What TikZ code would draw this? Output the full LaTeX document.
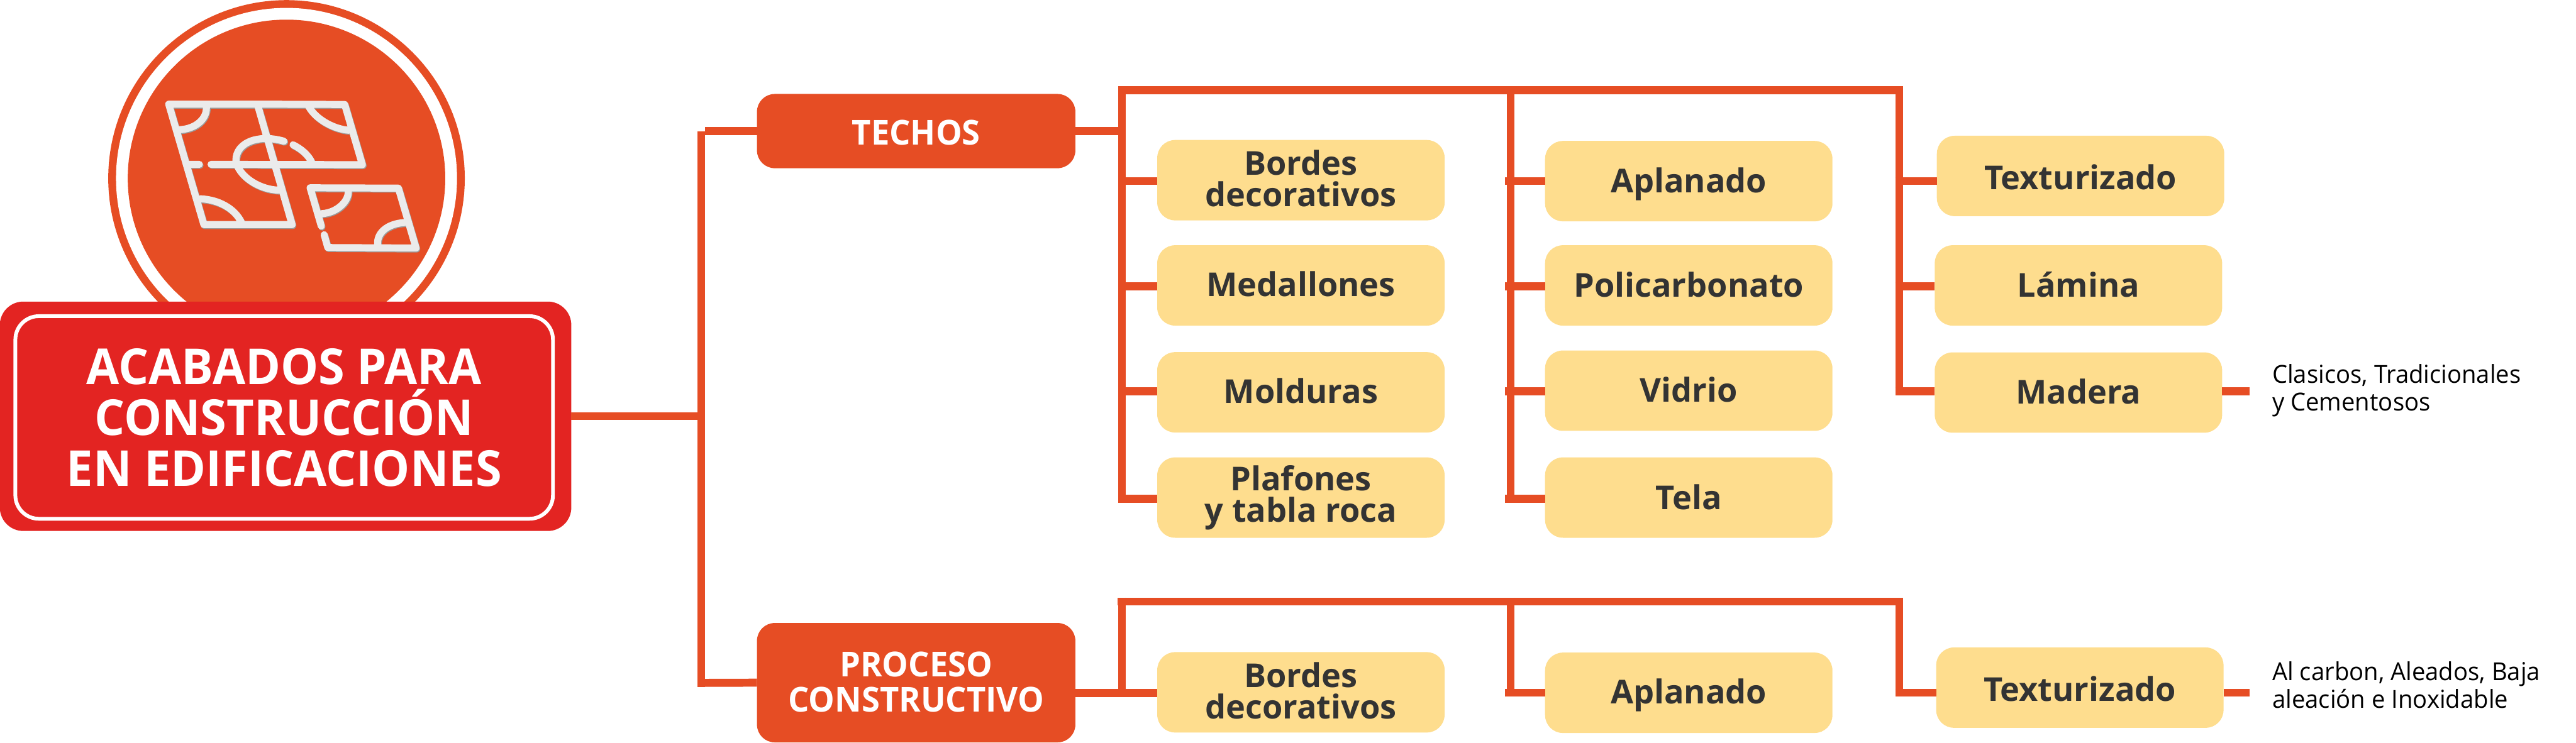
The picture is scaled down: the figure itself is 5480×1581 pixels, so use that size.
\documentclass[tikz,border=0pt]{standalone}
\usepackage{fontspec}
\setmainfont{Open Sans}
\newfontfamily\sidefont[FakeStretch=0.97]{Open Sans}
\newfontfamily\headfont[FakeStretch=0.96]{Open Sans}
\definecolor{brandorange}{HTML}{E64D24}
\definecolor{brandred}{HTML}{E32422}
\definecolor{leafyellow}{HTML}{FEDD8E}
\definecolor{inkdark}{HTML}{333333}
\definecolor{iconlight}{HTML}{EBEBEB}
\definecolor{iconshadow}{HTML}{9A9A9A}
\newlength{\pxu}\setlength{\pxu}{0.01cm}
% one line of text, centred on the node centre, baseline raised by #1 px
\newcommand{\tline}[2]{\makebox[0pt][c]{\smash{\raisebox{#1\pxu}{#2}}}}
% same, flush left
\newcommand{\lline}[2]{\makebox[0pt][l]{\smash{\raisebox{#1\pxu}{#2}}}}
\newcommand{\iconpaths}{
  (567,125) -- (75,125) -- (270,895) -- (760,895) -- (567,125)
  (567,125) -- (1052,127) -- (1150,512) -- (310,510)
  (245,510) -- (190,510)
  (283,130) .. controls (295,220) and (220,285) .. (135,288)
  (848,130) .. controls (880,210) and (980,283) .. (1075,292)
  (715,362) .. controls (560,310) and (430,380) .. (450,510)
  (458,525) .. controls (490,600) and (580,670) .. (685,675)
  (765,385) .. controls (810,410) and (850,450) .. (868,495)
  (250,730) .. controls (350,735) and (440,790) .. (478,880)
  (922,905) -- (860,660) -- (1350,662) -- (1448,1045) -- (958,1042) -- (938,960)
  (1070,665) .. controls (1085,740) and (1010,820) .. (925,825)
  (1385,882) .. controls (1290,888) and (1220,950) .. (1237,1040)
}
\tikzset{
  conn/.style={draw=brandorange,line width=0.165cm},
  connthin/.style={draw=brandorange,line width=0.16cm},
  branchbox/.style={rectangle,fill=brandorange,rounded corners=0.38cm,inner sep=0,outer sep=0,
     minimum width=6.77cm,text=white,font=\headfont\fontsize{20.8}{24}\selectfont\bfseries},
  leaf/.style={rectangle,fill=leafyellow,rounded corners=0.38cm,inner sep=0,outer sep=0,
     minimum width=6.11cm,minimum height=1.71cm,text=inkdark,font=\fontsize{19.9}{24}\selectfont\bfseries},
  sidenote/.style={inner sep=0,outer sep=0,text=black,font=\sidefont\fontsize{15.0}{17}\selectfont},
  rootbox/.style={rectangle,fill=brandred,rounded corners=0.5cm,inner sep=0,outer sep=0,
     minimum width=12.15cm,minimum height=4.88cm},
  rootframe/.style={rectangle,draw=white,line width=0.08cm,rounded corners=0.5cm,inner sep=0,outer sep=0,
     minimum width=11.43cm,minimum height=4.31cm,text=white,font=\headfont\fontsize{30}{33}\selectfont\bfseries},
  iconstroke/.style={line width=0.15cm,line cap=round,line join=round},
}
\begin{document}
\begin{tikzpicture}[x=0.01cm,y=-0.01cm]
\useasboundingbox (0,0) rectangle (5480,1581);
% medallion
\fill[brandorange] (609.5,379.5) circle (3.79cm);
\fill[white] (609.5,379.5) circle (3.625cm);
\fill[brandorange] (609.5,379.5) circle (3.375cm);
\begin{scope}[shift={(3.30cm,-1.80cm)},x=0.003827cm,y=-0.003333cm]
  \draw[iconstroke,iconshadow,shift={(4,6)}] \iconpaths;
  \draw[iconstroke,iconlight] \iconpaths;
\end{scope}
% root
\node[rootbox] (root) at (607.5,886) {};
\node[rootframe] (rootf) at (604.5,888.5) {\tline{70.5}{ACABADOS PARA}\tline{-37.5}{CONSTRUCCIÓN}\tline{-146}{EN EDIFICACIONES}};
% branches
\node[branchbox,minimum height=1.58cm] (techos) at (1949,279) {\tline{-30}{TECHOS}};
\node[branchbox,minimum height=2.54cm] (proceso) at (1949,1453) {\tline{13}{PROCESO}\tline{-62}{CONSTRUCTIVO}};
% upper leaves
\node[leaf] (b11) at (2767.5,383.5) {\tline{11}{Bordes}\tline{-56.5}{decorativos}};
\node[leaf] (b12) at (2767.5,607.5) {\tline{-23.5}{Medallones}};
\node[leaf] (b13) at (2767.5,835) {\tline{-23}{Molduras}};
\node[leaf] (b14) at (2767.5,1059) {\tline{15}{Plafones}\tline{-51.5}{y tabla roca}};
\node[leaf] (b21) at (3592.5,385.5) {\tline{-24}{Aplanado}};
\node[leaf] (b22) at (3592.5,607.5) {\tline{-24}{Policarbonato}};
\node[leaf] (b23) at (3592.5,831.5) {\tline{-24.5}{Vidrio}};
\node[leaf] (b24) at (3592.5,1059) {\tline{-26}{Tela}};
\node[leaf] (b31) at (4426,374.5) {\tline{-29.5}{Texturizado}};
\node[leaf] (b32) at (4421.5,607.5) {\tline{-24}{Lámina}};
\node[leaf] (b33) at (4421.5,835.5) {\tline{-24}{Madera}};
\node[sidenote] (n1) at (4834,833) {\lline{17.5}{Clasicos, Tradicionales}\lline{-41}{y Cementosos}};
% lower leaves
\node[leaf] (c1) at (2767.5,1473.5) {\tline{10.5}{Bordes}\tline{-56.5}{decorativos}};
\node[leaf] (c2) at (3592.5,1474.5) {\tline{-23.5}{Aplanado}};
\node[leaf] (c3) at (4424.5,1463.5) {\tline{-29.5}{Texturizado}};
\node[sidenote] (n2) at (4834,1474.5) {\lline{26.5}{Al carbon, Aleados, Baja}\lline{-32.5}{aleación e Inoxidable}};
% junction points
\coordinate (trunkT) at (1492,279);
\coordinate (trunkB) at (1492,1462);
\coordinate (trunkM) at (1492,886);
\coordinate (trunkPr) at (1484,1453.5);
\coordinate (trunkTe) at (1500,279);
\coordinate (busL) at (2379,192);
\coordinate (busR) at (4048,192);
\coordinate (col1T) at (2387,184);
\coordinate (col1B) at (2387,1070);
\coordinate (col2T) at (3213,184);
\coordinate (col2B) at (3213,1070);
\coordinate (col3T) at (4040,184);
\coordinate (col3B) at (4040,841);
\coordinate (teR) at (2395,279);
\coordinate (s11) at (2379,385.5);
\coordinate (s12) at (2379,609.5);
\coordinate (s13) at (2379,833);
\coordinate (s14) at (2379,1061.5);
\coordinate (s21) at (3202,385);
\coordinate (s22) at (3202,609.5);
\coordinate (s23) at (3202,833);
\coordinate (s24) at (3202,1061.5);
\coordinate (s31) at (4032,385);
\coordinate (s32) at (4032,609.5);
\coordinate (s33) at (4032,833);
\coordinate (e33) at (4785,833);
\coordinate (busLb) at (2378,1280.5);
\coordinate (busRb) at (4048.5,1280.5);
\coordinate (col1Tb) at (2386.5,1272);
\coordinate (col1Bb) at (2386.5,1475);
\coordinate (col2Tb) at (3213,1272);
\coordinate (col2Bb) at (3213,1483);
\coordinate (col3Tb) at (4040.5,1272);
\coordinate (col3Bb) at (4040.5,1483);
\coordinate (prE) at (2287.5,1475);
\coordinate (s2b) at (3202,1474.5);
\coordinate (s3b) at (4032,1474.5);
\coordinate (e3b) at (4785,1474.5);
% connectors
\draw[connthin] (root.east) -- (trunkM);
\draw[connthin] (trunkT) -- (trunkB);
\draw[conn] (techos.west) -- (trunkTe);
\draw[conn,line width=0.17cm] (proceso.west) -- (trunkPr);
\draw[conn] (techos.east) -- (teR);
\draw[conn] (busL) -- (busR);
\draw[connthin] (col1T) -- (col1B);
\draw[connthin] (col2T) -- (col2B);
\draw[connthin] (col3T) -- (col3B);
\draw[conn] (s11) -- (s11 -| b11.west);
\draw[conn] (s12) -- (s12 -| b12.west);
\draw[conn] (s13) -- (s13 -| b13.west);
\draw[conn] (s14) -- (s14 -| b14.west);
\draw[conn] (s21) -- (s21 -| b21.west);
\draw[conn] (s22) -- (s22 -| b22.west);
\draw[conn] (s23) -- (s23 -| b23.west);
\draw[conn] (s24) -- (s24 -| b24.west);
\draw[conn] (s31) -- (s31 -| b31.west);
\draw[conn] (s32) -- (s32 -| b32.west);
\draw[conn] (s33) -- (s33 -| b33.west);
\draw[conn] (b33.east |- e33) -- (e33);
% lower connectors
\draw[conn,line width=0.17cm] (busLb) -- (busRb);
\draw[connthin] (col1Tb) -- (col1Bb);
\draw[connthin] (col2Tb) -- (col2Bb);
\draw[connthin] (col3Tb) -- (col3Bb);
\draw[conn,line width=0.17cm] (prE) -- (prE -| c1.west);
\draw[conn,line width=0.17cm] (s2b) -- (s2b -| c2.west);
\draw[conn,line width=0.17cm] (s3b) -- (s3b -| c3.west);
\draw[conn,line width=0.17cm] (c3.east |- e3b) -- (e3b);
\end{tikzpicture}
\end{document}
